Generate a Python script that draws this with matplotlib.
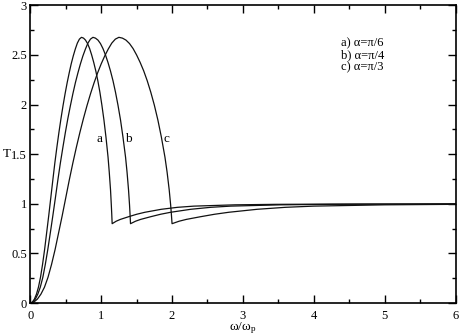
import numpy as np
import matplotlib
matplotlib.use('Agg')
import matplotlib.pyplot as plt
from matplotlib.ticker import MultipleLocator

plt.rcParams['font.family'] = ['Liberation Serif', 'DejaVu Serif']
plt.rcParams['mathtext.fontset'] = 'custom'
plt.rcParams['mathtext.rm'] = 'Liberation Serif'
plt.rcParams['mathtext.it'] = 'Liberation Serif:italic'

# curve a) alpha = pi/6
a_x = [0, 0.029, 0.058, 0.087, 0.115, 0.144, 0.173, 0.202, 0.231, 0.26, 0.289,
       0.318, 0.346, 0.375, 0.404, 0.433, 0.462, 0.491, 0.52, 0.549, 0.577,
       0.606, 0.635, 0.664, 0.693, 0.722, 0.751, 0.779, 0.808, 0.837, 0.866,
       0.895, 0.924, 0.953, 0.982, 1.01, 1.039, 1.068, 1.097, 1.114, 1.132,
       1.143, 1.149, 1.155,
       1.212, 1.27, 1.386, 1.501, 1.617, 1.848, 2.078, 2.309, 2.887, 3.464,
       4.619, 6.0]
# curve b) alpha = pi/4
b_x = [0, 0.035, 0.071, 0.106, 0.141, 0.177, 0.212, 0.247, 0.283, 0.318, 0.354,
       0.389, 0.424, 0.46, 0.495, 0.53, 0.566, 0.601, 0.636, 0.672, 0.707,
       0.742, 0.778, 0.813, 0.849, 0.884, 0.919, 0.955, 0.99, 1.025, 1.061,
       1.096, 1.131, 1.167, 1.202, 1.237, 1.273, 1.308, 1.344, 1.365, 1.386,
       1.4, 1.407, 1.414,
       1.485, 1.556, 1.697, 1.838, 1.98, 2.263, 2.546, 2.828, 3.536, 4.243,
       5.657, 6.0]
# curve c) alpha = pi/3
c_x = [0, 0.05, 0.1, 0.15, 0.2, 0.25, 0.3, 0.35, 0.4, 0.45, 0.5,
       0.55, 0.6, 0.65, 0.7, 0.75, 0.8, 0.85, 0.9, 0.95, 1.0,
       1.05, 1.1, 1.15, 1.2, 1.25, 1.3, 1.35, 1.4, 1.45, 1.5,
       1.55, 1.6, 1.65, 1.7, 1.75, 1.8, 1.85, 1.9, 1.93, 1.96,
       1.98, 1.99, 2.0,
       2.1, 2.2, 2.4, 2.6, 2.8, 3.2, 3.6, 4.0, 5.0, 6.0]

# T before the drop (same shape for the three curves)
t_rise = [0, 0.01, 0.04, 0.09, 0.16, 0.26, 0.39, 0.54, 0.71, 0.88, 1.06,
          1.24, 1.41, 1.57, 1.72, 1.86, 1.99, 2.11, 2.22, 2.32, 2.41,
          2.49, 2.56, 2.62, 2.66, 2.678, 2.67, 2.65, 2.615, 2.565, 2.50,
          2.425, 2.34, 2.24, 2.125, 1.995, 1.845, 1.67, 1.47, 1.32, 1.14,
          0.99, 0.90, 0.80]
# T after the drop
t_tail_a = [0.825, 0.843, 0.87, 0.895, 0.915, 0.945, 0.965, 0.977, 0.99, 0.995,
            0.998, 1.0]
t_tail_b = [0.825, 0.843, 0.87, 0.895, 0.915, 0.945, 0.965, 0.977, 0.99, 0.995,
            0.998, 0.999]
t_tail_c = [0.825, 0.843, 0.87, 0.895, 0.915, 0.945, 0.965, 0.977, 0.99, 0.995]

curve_labels = ['a', 'b', 'c']
label_x = [0.98, 1.39, 1.915]
legend_lines = ['a) α=π/6', 'b) α=π/4', 'c) α=π/3']

fig = plt.figure(figsize=(4.59, 3.36), dpi=100)
ax = fig.add_axes([0.066, 0.098, 0.9265, 0.886])

ax.plot(a_x, t_rise + t_tail_a, color='#111111', lw=0.9)
ax.plot(b_x, t_rise + t_tail_b, color='#111111', lw=0.9)
ax.plot(c_x, t_rise + t_tail_c, color='#111111', lw=0.9)

for lab, lx in zip(curve_labels, label_x):
    ax.text(lx, 1.65, lab, ha='center', va='center', fontsize=9.5)

for i, line in enumerate(legend_lines):
    ax.text(4.38, 2.62 - 0.12 * i, line, ha='left', va='center', fontsize=9)

ax.set_xlim(0, 6)
ax.set_ylim(0, 3)
ax.xaxis.set_major_locator(MultipleLocator(1))
ax.xaxis.set_minor_locator(MultipleLocator(0.5))
ax.yaxis.set_minor_locator(MultipleLocator(0.25))
ax.set_yticks([0, 0.5, 1, 1.5, 2, 2.5, 3])
ax.set_yticklabels(['0', '0.5', '1', '1.5', '2', '2.5', '3'])

ax.tick_params(which='both', direction='in', top=True, right=True,
               labelsize=9, width=1)
ax.tick_params(which='major', length=5.5)
ax.tick_params(which='minor', length=3)
ax.tick_params(axis='x', pad=5)
ax.tick_params(axis='y', pad=2.5)
for s in ax.spines.values():
    s.set_linewidth(1.2)

ax.set_xlabel(r'ω/ω$_{\rm p}$', fontsize=9.5, labelpad=-1)
ax.set_ylabel('T', fontsize=9.5, rotation=0, va='center', ha='center')
ax.yaxis.set_label_coords(-0.056, 0.5)

fig.savefig('out.png', dpi=100)
